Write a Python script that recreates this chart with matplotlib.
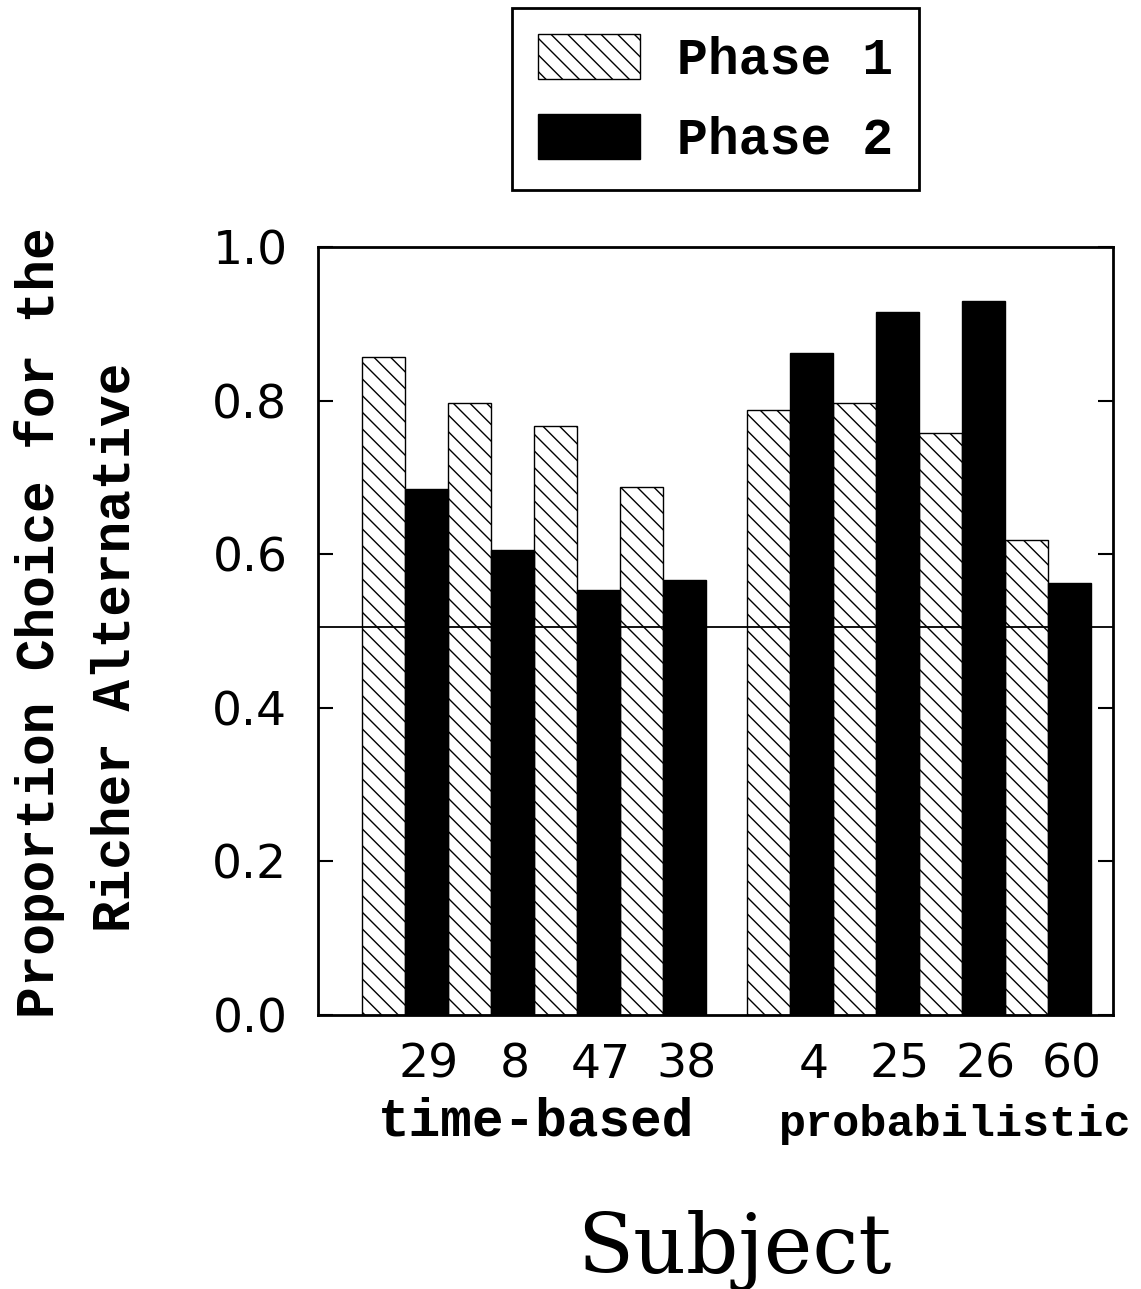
import numpy as np
import matplotlib
matplotlib.use('Agg')
import matplotlib.pyplot as plt
from matplotlib.patches import Patch

# data
subjects = ['29', '8', '47', '38', '4', '25', '26', '60']
groups = ['time-based', 'probabilistic']
phase1 = [0.857, 0.797, 0.767, 0.688, 0.788, 0.797, 0.758, 0.618]
phase2 = [0.685, 0.605, 0.553, 0.566, 0.862, 0.915, 0.930, 0.562]
indifference = 0.505

plt.rcParams['hatch.linewidth'] = 1.0
mono = 'Liberation Mono'

fig = plt.figure(figsize=(11.41, 12.89), dpi=100)
ax = fig.add_axes([0.2787, 0.2126, 0.6968, 0.5958])

# pair centres (bar width = 1), second group shifted by a gap
pos = np.array([1, 3, 5, 7, 9.95, 11.95, 13.95, 15.95])

ax.bar(pos - 0.5, phase1, width=1.0, color='white', edgecolor='black',
       hatch='\\\\', linewidth=1.0, label='Phase 1')
ax.bar(pos + 0.5, phase2, width=1.0, color='black', edgecolor='black',
       linewidth=1.0, label='Phase 2')
ax.axhline(indifference, color='black', linewidth=1.3, zorder=5)

ax.set_xlim(-1.02, 17.46)
ax.set_ylim(0, 1.0)

ax.set_yticks([0.0, 0.2, 0.4, 0.6, 0.8, 1.0])
ax.set_yticklabels(['0.0', '0.2', '0.4', '0.6', '0.8', '1.0'])
ax.tick_params(axis='y', direction='in', length=11, width=1.5,
               right=True, labelsize=34, pad=22)
ax.set_xticks(pos + 0.55)
ax.set_xticklabels(subjects)
ax.tick_params(axis='x', length=0, labelsize=34, pad=20)
for sp in ax.spines.values():
    sp.set_linewidth(2.0)

# group labels
ax.text(4.05, -0.157, groups[0], ha='center', va='baseline',
        fontsize=38, family=mono, weight='bold')
ax.text(13.79, -0.157, groups[1], ha='center', va='baseline',
        fontsize=32.5, family=mono, weight='bold')

# y label (two lines)
fig.text(0.035, 0.517, 'Proportion Choice for the', rotation=90,
         ha='center', va='center', fontsize=38, family=mono, weight='bold')
fig.text(0.101, 0.498, 'Richer Alternative', rotation=90,
         ha='center', va='center', fontsize=38, family=mono, weight='bold')

# x label
fig.text(0.644, 0.03, 'Subject', ha='center', va='center',
         fontsize=59, family='DejaVu Serif')

handles = [Patch(facecolor='white', edgecolor='black', hatch='\\\\', linewidth=1.0),
           Patch(facecolor='black', edgecolor='black')]
leg = fig.legend(handles, ['Phase 1', 'Phase 2'], loc='upper left',
                 bbox_to_anchor=(512 / 1141, 1 - 8 / 1289),
                 prop={'family': mono, 'weight': 'bold', 'size': 37},
                 handlelength=2.0, handleheight=0.97, handletextpad=0.72,
                 labelspacing=0.56, borderpad=0.5, borderaxespad=0,
                 fancybox=False, framealpha=1, edgecolor='black')
leg.get_frame().set_linewidth(2.0)

fig.savefig('out.png', dpi=100, facecolor='white')
